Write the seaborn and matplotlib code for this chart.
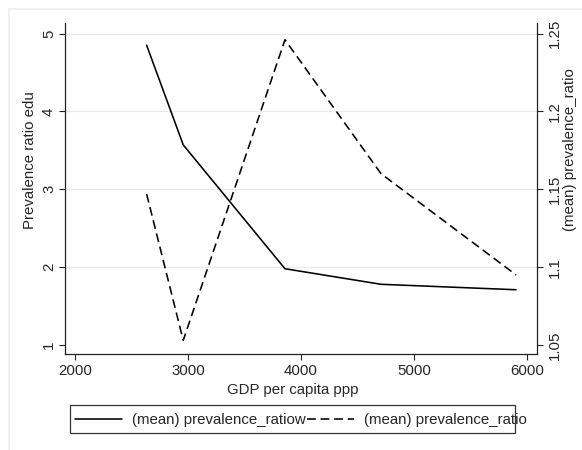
import matplotlib
matplotlib.use('Agg')
import matplotlib.pyplot as plt
import seaborn as sns
import pandas as pd
from matplotlib.patches import Rectangle
from matplotlib.lines import Line2D

# ---- data ----
gdp = [2634, 2958, 3858, 4708, 5903]
ratio_edu = [4.85, 3.57, 1.98, 1.78, 1.71]
ratio = [1.147, 1.053, 1.246, 1.160, 1.095]
x_ticks = [2000, 3000, 4000, 5000, 6000]
left_ticks = [1, 2, 3, 4, 5]
right_ticks = [1.05, 1.1, 1.15, 1.2, 1.25]
right_tick_labels = ['1.05', '1.1', '1.15', '1.2', '1.25']
x_title = 'GDP per capita ppp'
left_title = 'Prevalence ratio edu'
right_title = '(mean) prevalence_ratio'
legend_labels = ['(mean) prevalence_ratiow', '(mean) prevalence_ratio']

sns.set_theme(style='white')
plt.rcParams['font.family'] = ['Liberation Sans', 'DejaVu Sans']
fs = 10.8
W, H = 582, 450

fig = plt.figure(figsize=(W / 100, H / 100), dpi=100)
fig.patch.set_facecolor('white')

# faint outer frame
fig.add_artist(Line2D([9 / W, 9 / W], [0, 1 - 9 / H], transform=fig.transFigure,
                      color='#ececec', lw=1.2))
fig.add_artist(Line2D([9 / W, 1], [1 - 9 / H, 1 - 9 / H], transform=fig.transFigure,
                      color='#ececec', lw=1.2))

ax = fig.add_axes([65 / W, 1 - 354 / H, 472 / W, 331 / H])
ax.set_facecolor('white')
ax2 = ax.twinx()

df = pd.DataFrame({'gdp': gdp, 'edu': ratio_edu, 'ratio': ratio})
sns.lineplot(data=df, x='gdp', y='edu', ax=ax, color='black', lw=1.15,
             legend=False, zorder=3)
sns.lineplot(data=df, x='gdp', y='ratio', ax=ax2, color='black', lw=1.15,
             linestyle=(0, (5.5, 3)), legend=False, zorder=3)

ax.set_xlim(1912, 6088)
ax.set_ylim(0.885, 5.135)
ax2.set_ylim(1.04425, 1.25675)

ax.set_xticks(x_ticks)
ax.set_xticklabels([str(v) for v in x_ticks])
ax.set_yticks(left_ticks)
ax.set_yticklabels([str(v) for v in left_ticks], rotation=90, va='center')
ax2.set_yticks(right_ticks)
ax2.set_yticklabels(right_tick_labels, rotation=90, va='center')

ax.grid(axis='y', color='#eaeaea', lw=0.9)
ax.grid(axis='x', visible=False)
ax.set_axisbelow(True)
ax.get_ygridlines()[0].set_visible(False)

sc = '#222222'
ax.spines['top'].set_visible(False)
ax2.spines['top'].set_visible(False)
ax.spines['right'].set_visible(False)
ax2.spines['left'].set_visible(False)
ax2.spines['bottom'].set_visible(False)
for a, ss in [(ax, ['left', 'bottom']), (ax2, ['right'])]:
    for s in ss:
        a.spines[s].set_color(sc)
        a.spines[s].set_linewidth(0.9)

ax.tick_params(axis='x', direction='out', length=4.5, width=0.8, color=sc,
               labelsize=fs, pad=3, bottom=True)
ax.tick_params(axis='y', direction='out', length=4.5, width=0.8, color=sc,
               labelsize=fs, pad=2, left=True)
ax2.tick_params(axis='y', direction='out', length=4.5, width=0.8, color=sc,
                labelsize=fs, pad=3, right=True)

ax.set_xlabel(x_title, fontsize=fs)
ax.xaxis.set_label_coords((292.5 - 65) / 472, (354 - 390) / 331)
ax.xaxis.label.set_va('center')
ax.set_ylabel(left_title, fontsize=fs)
ax.yaxis.set_label_coords((30 - 65) / 472, (354 - 160) / 331)
ax.yaxis.label.set_va('center')
ax2.set_ylabel(right_title, fontsize=fs)
ax2.yaxis.set_label_coords((570 - 65) / 472, (354 - 150) / 331)
ax2.yaxis.label.set_va('center')

# legend
handles = [Line2D([], [], color='black', lw=1.15),
           Line2D([], [], color='black', lw=1.15, linestyle=(0, (5.5, 3)))]
fig.legend(handles, legend_labels, ncol=2, frameon=False, loc='center left',
           bbox_to_anchor=(75 / W, 1 - 420 / H), borderpad=0, borderaxespad=0,
           handlelength=3.1, handletextpad=0.67, columnspacing=0.13, fontsize=fs)
fig.add_artist(Rectangle((70 / W, 1 - 433 / H), 445 / W, 28 / H,
                         transform=fig.transFigure, fill=False,
                         edgecolor='#333333', lw=0.9))

fig.savefig('out.png', dpi=100, facecolor='white')
